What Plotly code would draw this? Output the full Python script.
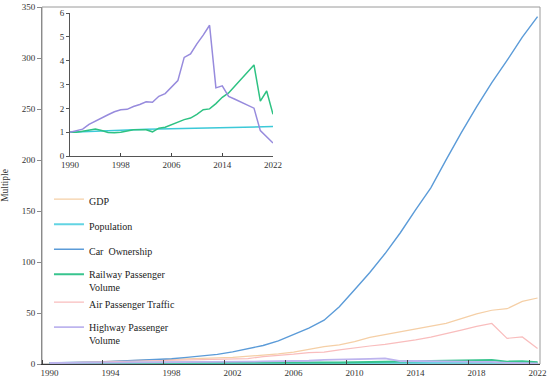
import plotly.graph_objects as go

years = list(range(1990, 2023))

gdp = [1.0, 1.17, 1.44, 1.90, 2.60, 3.28, 3.84, 4.26, 4.56, 4.85, 5.36, 5.93, 6.50, 7.35, 8.65,
       10.0, 11.7, 14.4, 17.1, 18.7, 22.0, 26.1, 28.8, 31.7, 34.4, 36.8, 39.9, 44.5, 49.1, 52.7,
       54.2, 61.4, 64.7]
population = [1.0, 1.013, 1.025, 1.037, 1.048, 1.059, 1.070, 1.081, 1.091, 1.100, 1.109, 1.116,
              1.123, 1.130, 1.137, 1.144, 1.150, 1.156, 1.162, 1.167, 1.173, 1.180, 1.189, 1.196,
              1.204, 1.210, 1.218, 1.225, 1.229, 1.233, 1.235, 1.236, 1.235]
car = [1.0, 1.18, 1.45, 1.91, 2.52, 3.06, 3.55, 4.39, 5.19, 6.54, 7.66, 9.44, 11.87, 14.94, 18.15,
       22.64, 28.59, 35.24, 42.90, 56.05, 72.76, 89.77, 108.29, 128.67, 151.18, 172.74, 200.08,
       226.84, 252.08, 275.78, 297.61, 320.41, 340.5]
railway = [1.0, 0.993, 1.042, 1.102, 1.136, 1.073, 0.990, 0.975, 0.993, 1.047, 1.098, 1.099, 1.103,
           1.016, 1.168, 1.208, 1.313, 1.417, 1.527, 1.593, 1.751, 1.946, 1.978, 2.200, 2.463,
           2.648, 2.940, 3.222, 3.526, 3.824, 2.302, 2.729, 1.748]
air = [1.0, 1.31, 1.74, 2.04, 2.43, 3.08, 3.35, 3.39, 3.47, 3.67, 4.05, 4.53, 5.17, 5.28, 7.30,
       8.33, 9.62, 11.19, 11.60, 13.89, 16.13, 17.66, 19.24, 21.33, 23.61, 26.28, 29.40, 33.23,
       36.85, 39.75, 25.18, 26.53, 15.18]
highway = [1.0, 1.053, 1.129, 1.328, 1.472, 1.606, 1.731, 1.859, 1.940, 1.958, 2.079, 2.165, 2.276,
           2.259, 2.507, 2.619, 2.871, 3.164, 4.139, 4.288, 4.710, 5.071, 5.488, 2.860, 2.944,
           2.498, 2.380, 2.248, 2.110, 2.008, 1.064, 0.785, 0.547]

main_ticks = [1990, 1994, 1998, 2002, 2006, 2010, 2014, 2018, 2022]
inset_ticks = [1990, 1998, 2006, 2014, 2022]

FONT = "Liberation Serif"

series = [
    ("GDP", gdp, "#F5CFA6", 1.2, "legend"),
    ("Population", population, "#62D4E3", 2.0, "legend"),
    ("Car  Ownership", car, "#5B9BD8", 1.4, "legend"),
    ("Railway Passenger<br>Volume", railway, "#38C48E", 2.0, "legend"),
    ("Air Passenger Traffic", air, "#F9BDBD", 1.2, "legend2"),
    ("Highway Passenger<br>Volume", highway, "#BDB4EE", 1.8, "legend2"),
]

fig = go.Figure()
for name, vals, color, w, lg in series:
    fig.add_trace(go.Scatter(x=years, y=vals, mode="lines", name=name, legendgroup=name,
                             legend=lg, line=dict(color=color, width=w)))

inset = [
    (population, "#3CC9D8", 1.5),
    (railway, "#2EC283", 1.5),
    (highway, "#978BDD", 1.5),
]
for vals, color, w in inset:
    fig.add_trace(go.Scatter(x=years, y=vals, mode="lines", showlegend=False,
                             xaxis="x2", yaxis="y2", line=dict(color=color, width=w)))

legend_style = dict(xanchor="left", yanchor="top", bgcolor="rgba(0,0,0,0)",
                    font=dict(family=FONT, size=10, color="#222222"), tracegroupgap=6,
                    valign="top", itemwidth=30)

fig.update_layout(
    width=550, height=386,
    margin=dict(l=42, r=10, t=7, b=22, autoexpand=False),
    paper_bgcolor="white", plot_bgcolor="white",
    font=dict(family=FONT, size=9, color="#333333"),
    showlegend=True,
    legend=dict(x=0.014, y=0.498, **legend_style),
    legend2=dict(x=0.014, y=0.2095, **legend_style),
    shapes=[dict(type="rect", xref="paper", yref="paper", x0=0, x1=1, y0=0, y1=1,
                 line=dict(color="#9a9a9a", width=1), layer="below")],
    xaxis=dict(range=[1989.5, 2022.16], tickvals=main_ticks, ticktext=[str(y) for y in main_ticks],
               ticks="", showgrid=False, zeroline=False, showline=True, linecolor="#3a3a3a",
               linewidth=1, automargin=False,
               minor=dict(tick0=1989.5, dtick=4, ticks="inside", ticklen=4, tickcolor="#444444"),
               tickfont=dict(size=9)),
    yaxis=dict(range=[0, 350], tickvals=[0, 50, 100, 150, 200, 250, 300, 350], ticks="outside",
               ticklen=4, tickcolor="#8a8a8a", showgrid=False, zeroline=False, showline=True,
               linecolor="#8a8a8a", linewidth=1, automargin=False,
               title=dict(text="Multiple", font=dict(size=9.5), standoff=11),
               tickfont=dict(size=9)),
    xaxis2=dict(domain=[0.0562, 0.4639], anchor="y2", range=[1990, 2022], tickvals=inset_ticks,
                ticks="inside", ticklen=3, tickcolor="#444444", showgrid=False, zeroline=False,
                showline=True, linecolor="#555555", linewidth=1, tickfont=dict(size=9)),
    yaxis2=dict(domain=[0.5826, 0.983], anchor="x2", range=[0, 6], tickvals=[0, 1, 2, 3, 4, 5, 6],
                ticks="outside", ticklen=3, tickcolor="#555555", showgrid=False, zeroline=False,
                showline=True, linecolor="#555555", linewidth=1, tickfont=dict(size=9)),
)

fig.write_html("out.html", post_script="document.body.style.margin='0';",
               config={"displayModeBar": False})
